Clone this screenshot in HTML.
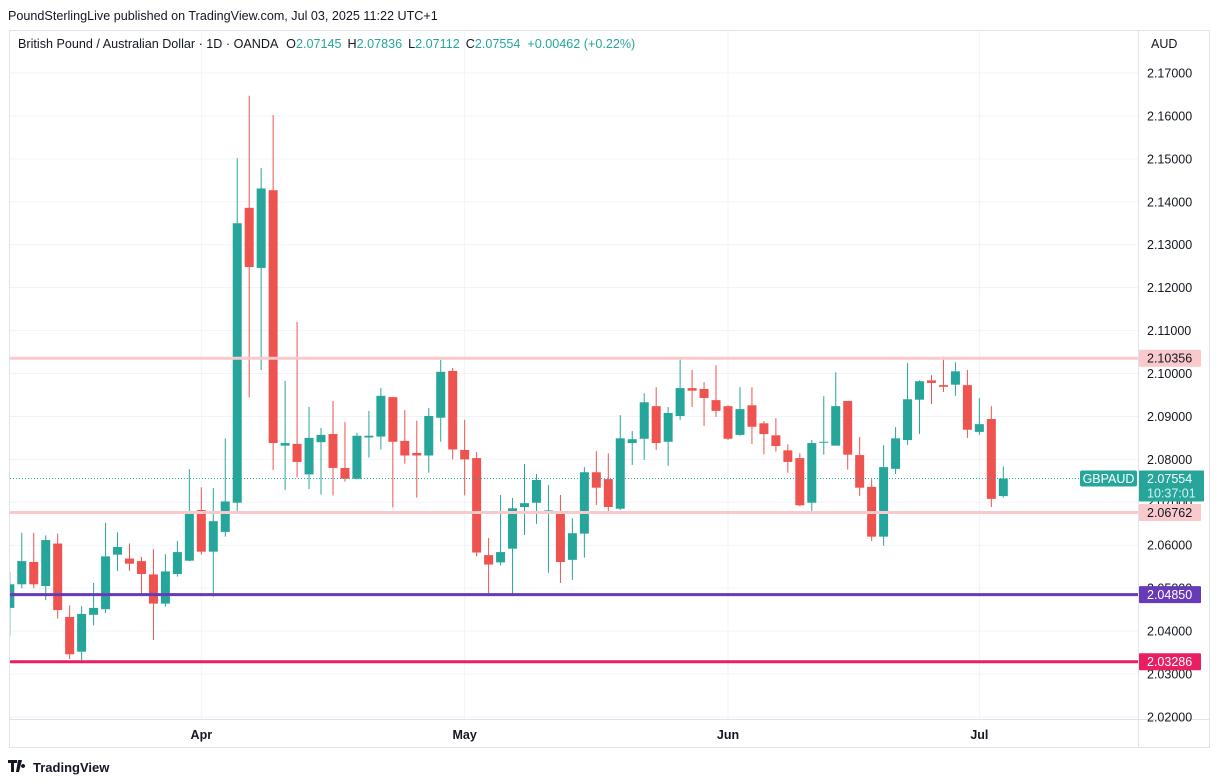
<!DOCTYPE html>
<html><head><meta charset="utf-8"><style>
html,body{margin:0;padding:0;background:#fff;}
svg{display:block;font-family:"Liberation Sans",sans-serif;}
</style></head><body>
<svg id="chart" width="1220" height="783" viewBox="0 0 1220 783">
<text x="8" y="20" font-size="12.6" fill="#131722">PoundSterlingLive published on TradingView.com, Jul 03, 2025 11:22 UTC+1</text>
<rect x="9.5" y="30.5" width="1200" height="717" fill="none" stroke="#e0e3eb"/>
<g id="grid"></g>
<g id="marks"></g>
<g id="levels"></g>
<line x1="1138.5" y1="31" x2="1138.5" y2="747" stroke="#e0e3eb"/>
<line x1="10" y1="719.5" x2="1210" y2="719.5" stroke="#e0e3eb"/>
<rect x="1139" y="31" width="70" height="688" fill="#fff"/>
<g id="yticks"></g>
<g id="xticks"></g>
<g id="tags"></g>
<rect x="1141" y="31" width="67" height="26" fill="#fff"/>
<text x="1151" y="48" font-size="12.5" fill="#131722">AUD</text>
<text x="18" y="48" font-size="12.6" fill="#131722">British Pound / Australian Dollar · 1D · OANDA <tspan dx="5">O</tspan><tspan fill="#26a69a">2.07145</tspan><tspan dx="6">H</tspan><tspan fill="#26a69a">2.07836</tspan><tspan dx="6">L</tspan><tspan fill="#26a69a">2.07112</tspan><tspan dx="6">C</tspan><tspan fill="#26a69a">2.07554</tspan><tspan dx="7" fill="#26a69a">+0.00462 (+0.22%)</tspan></text>
<g>
<path d="M8 760h9v3h-3v9h-3v-9h-3z M18 760h4l-3 12h-3z M23 764a2 2 0 1 0 0.1 0z" fill="#131722"/>
<text x="33" y="772" font-size="13" font-weight="bold" fill="#131722">TradingView</text>
</g>
</svg>
<script>
const opens=[2.0454,2.0509,2.0561,2.0505,2.0604,2.0433,2.0352,2.0438,2.0451,2.0578,2.0569,2.0563,2.0532,2.0464,2.0533,2.0564,2.0682,2.0585,2.0631,2.0699,2.1386,2.1246,2.1427,2.0832,2.0836,2.0765,2.0840,2.0859,2.0780,2.0755,2.0851,2.0853,2.0945,2.0843,2.0815,2.0809,2.0897,2.1006,2.0822,2.0803,2.0577,2.0560,2.0592,2.0689,2.0699,2.0673,2.0677,2.0566,2.0627,2.0770,2.0754,2.0685,2.0838,2.0848,2.0924,2.0841,2.0901,2.0966,2.0964,2.0938,2.0924,2.0857,2.0926,2.0884,2.0856,2.0821,2.0803,2.0699,2.0840,2.0832,2.0936,2.0810,2.0736,2.0620,2.0778,2.0845,2.0939,2.0984,2.0973,2.0974,2.0973,2.0864,2.0894,2.07145];
const highs=[2.0538,2.0629,2.0629,2.0623,2.0627,2.0460,2.0458,2.0512,2.0652,2.0630,2.0604,2.0573,2.0591,2.0579,2.0610,2.0777,2.0735,2.0733,2.0849,2.1501,2.1647,2.1479,2.1602,2.0983,2.1120,2.0922,2.0873,2.0936,2.0887,2.0862,2.0913,2.0966,2.0945,2.0915,2.0890,2.0920,2.1032,2.1013,2.0892,2.0817,2.0617,2.0717,2.0710,2.0789,2.0766,2.0740,2.0717,2.0663,2.0782,2.0819,2.0814,2.0903,2.0866,2.0954,2.0968,2.0922,2.1036,2.1008,2.0980,2.1019,2.0926,2.0968,2.0968,2.0889,2.0896,2.0835,2.0814,2.0845,2.0947,2.1003,2.0936,2.0852,2.0754,2.0833,2.0875,2.1024,2.0984,2.0996,2.1039,2.1026,2.1008,2.0943,2.0924,2.07836];
const lows=[2.0389,2.0500,2.0500,2.0472,2.0429,2.0335,2.0327,2.0413,2.0442,2.0540,2.0540,2.0485,2.0379,2.0457,2.0527,2.0563,2.0578,2.0480,2.0620,2.0677,2.0944,2.1008,2.0775,2.0729,2.0758,2.0731,2.0718,2.0716,2.0748,2.0753,2.0804,2.0823,2.0688,2.0790,2.0711,2.0769,2.0841,2.0800,2.0716,2.0574,2.0484,2.0553,2.0486,2.0624,2.0650,2.0536,2.0512,2.0519,2.0571,2.0694,2.0675,2.0682,2.0787,2.0799,2.0822,2.0785,2.0892,2.0922,2.0878,2.0899,2.0845,2.0855,2.0836,2.0812,2.0818,2.0769,2.0691,2.0673,2.0811,2.0832,2.0776,2.0715,2.0610,2.0599,2.0766,2.0834,2.0859,2.0929,2.0957,2.0948,2.0850,2.0857,2.0689,2.07112];
const closes=[2.0509,2.0563,2.0509,2.0612,2.0449,2.0346,2.0440,2.0454,2.0574,2.0596,2.0557,2.0533,2.0464,2.0539,2.0584,2.0679,2.0585,2.0656,2.0702,2.1350,2.1248,2.1431,2.0838,2.0838,2.0794,2.0850,2.0857,2.0780,2.0755,2.0855,2.0855,2.0948,2.0841,2.0809,2.0809,2.0901,2.1004,2.0823,2.0800,2.0583,2.0555,2.0584,2.0686,2.0698,2.0752,2.0681,2.0561,2.0628,2.0770,2.0734,2.0689,2.0849,2.0847,2.0933,2.0838,2.0908,2.0966,2.0960,2.0943,2.0913,2.0848,2.0917,2.0876,2.0859,2.0831,2.0794,2.0693,2.0838,2.0841,2.0924,2.0811,2.0734,2.0620,2.0782,2.0849,2.0940,2.0982,2.0978,2.0969,2.1005,2.0869,2.0882,2.0708,2.07554];
const yTickValues=[2.17,2.16,2.15,2.14,2.13,2.12,2.11,2.10,2.09,2.08,2.07,2.06,2.05,2.04,2.03,2.02];
const monthLabels=["Apr","May","Jun","Jul"];
const monthIndex=[16,38,60,81];
const levelValues=[2.10356,2.06762,2.04850,2.03286];
const levelLabels=["2.10356","2.06762","2.04850","2.03286"];
const lastPrice=2.07554;

const NS="http://www.w3.org/2000/svg";
const yScale=p=>73+(2.17-p)*4293;
const xScale=i=>9.8+i*11.97;
function mk(tag,attrs,parent){const e=document.createElementNS(NS,tag);for(const k in attrs)e.setAttribute(k,attrs[k]);parent.appendChild(e);return e;}
const grid=document.getElementById('grid'),marks=document.getElementById('marks'),levels=document.getElementById('levels');
const yticks=document.getElementById('yticks'),xticks=document.getElementById('xticks'),tags=document.getElementById('tags');
const clip=mk('clipPath',{id:'pane'},document.getElementById('chart'));
mk('rect',{x:10,y:31,width:1128,height:688},clip);
marks.setAttribute('clip-path','url(#pane)');
levels.setAttribute('clip-path','url(#pane)');

yTickValues.forEach(v=>{
  const y=yScale(v);
  const g=mk('line',{x1:10,x2:1138,y1:y,y2:y,stroke:'#f0f3fa','stroke-width':1},grid);
  
  
  if(y>40&&y<724){
    const t=mk('text',{x:1147,y:y+4.5,'font-size':12.5,fill:'#131722'},yticks);
    t.textContent=v.toFixed(5);
    
    
  }
});
monthLabels.forEach((m,i)=>{
  const x=xScale(monthIndex[i]);
  const g=mk('line',{x1:x,x2:x,y1:31,y2:719,stroke:'#f0f3fa','stroke-width':1},grid);
  
  
  const t=mk('text',{x:x,y:739,'font-size':12.5,'font-weight':'bold','text-anchor':'middle',fill:'#131722'},xticks);
  t.textContent=m;
  
  
});

opens.forEach((o,i)=>{
  const c=closes[i],x=xScale(i),up=c>=o,col=up?'#26a69a':'#ef5350';
  const w=mk('line',{x1:x,x2:x,y1:yScale(highs[i]),y2:yScale(lows[i]),stroke:col,'stroke-width':1},marks);
  
  
  const top=yScale(Math.max(o,c)),bot=yScale(Math.min(o,c));
  const b=mk('rect',{x:x-4.5,y:top,width:9,height:Math.max(1,bot-top),fill:col},marks);
  
  
});

const ly=yScale(lastPrice);
const dl=mk('line',{x1:10,x2:1138,y1:ly,y2:ly,stroke:'#26a69a','stroke-width':1,'stroke-dasharray':'1 2'},levels);



const lvlCols=['#f9c9cc','#f9c9cc','#673ab7','#e91e63'];
const lvlText=['#131722','#131722','#ffffff','#ffffff'];
levelValues.forEach((v,i)=>{
  const y=yScale(v);
  const l=mk('line',{x1:10,x2:1138,y1:y,y2:y,stroke:lvlCols[i],'stroke-width':3},levels);
  
  
  const r=mk('rect',{x:1139,y:y-8.5,width:62,height:17,fill:lvlCols[i],rx:1},tags);
  
  
  const t=mk('text',{x:1147,y:y+4.5,'font-size':12.5,fill:lvlText[i]},tags);
  t.textContent=levelLabels[i];
  
  
});
const sb=mk('rect',{x:1080,y:ly-8,width:57,height:16,fill:'#26a69a',rx:2},tags);


const st=mk('text',{x:1108.5,y:ly+4.5,'font-size':12.5,fill:'#fff','text-anchor':'middle'},tags);
st.textContent='GBPAUD';


const pb=mk('rect',{x:1139,y:ly-8,width:65,height:31,fill:'#26a69a',rx:1},tags);


const pt=mk('text',{x:1147,y:ly+4.5,'font-size':12.5,fill:'#fff'},tags);
pt.textContent=lastPrice.toFixed(5);


const ct=mk('text',{x:1147,y:ly+19,'font-size':12.5,fill:'#d8f1ee'},tags);
ct.textContent='10:37:01';


</script>
</body></html>
